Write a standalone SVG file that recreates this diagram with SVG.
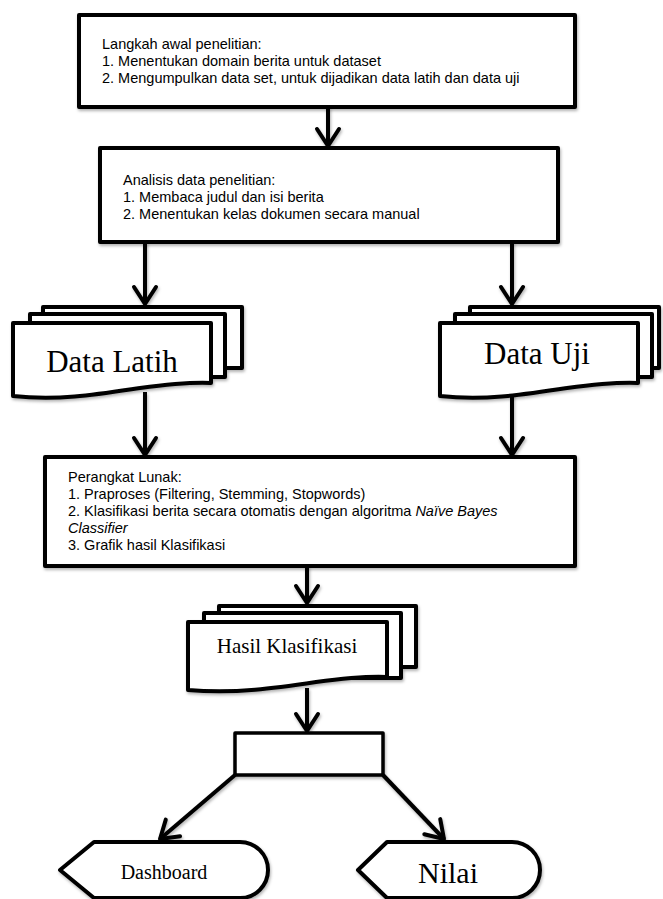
<svg xmlns="http://www.w3.org/2000/svg" width="663" height="899" viewBox="0 0 663 899">
<style>
.box{fill:#fff;stroke:#000;stroke-width:4;stroke-linejoin:round}
.sheet{fill:#fff;stroke:#000;stroke-width:4;stroke-linejoin:round}
.con{fill:none;stroke:#000;stroke-width:4;marker-end:url(#ah)}
.t{font-family:"Liberation Sans",Arial,sans-serif;font-size:14.5px;fill:#000}
.s{font-family:"Liberation Serif","Times New Roman",serif;fill:#000;text-anchor:middle}
.sh{filter:url(#shadow)}
</style>
<defs>
<filter id="shadow" x="-10%" y="-10%" width="120%" height="130%">
<feDropShadow dx="1" dy="2" stdDeviation="1.5" flood-color="#000" flood-opacity="0.3"/>
</filter>
<marker id="ah" markerUnits="userSpaceOnUse" viewBox="-20 -15 22 30" markerWidth="22" markerHeight="30" refX="0" refY="0" orient="auto" overflow="visible">
<path d="M-17,-11 L0,0 L-17,11" fill="none" stroke="#000" stroke-width="4" stroke-linecap="round" stroke-linejoin="round"/>
</marker>
</defs>
<g id="connectors" class="sh">
<line class="con" x1="328" y1="107" x2="328" y2="146"/>
<line class="con" x1="145" y1="242" x2="145" y2="304"/>
<line class="con" x1="512" y1="242" x2="512" y2="304"/>
<line class="con" x1="145" y1="392" x2="145" y2="455"/>
<line class="con" x1="512" y1="392" x2="512" y2="455"/>
<line class="con" x1="307" y1="566" x2="307" y2="603"/>
<line class="con" x1="307" y1="688" x2="307" y2="731"/>
<line class="con" x1="235" y1="775" x2="160" y2="839"/>
<line class="con" x1="383" y1="775" x2="444" y2="839"/>
</g>
<g id="box1">
<rect class="box sh" x="79" y="15" width="496" height="92"/>
<text class="t" x="102" y="49">Langkah awal penelitian:</text>
<text class="t" x="102" y="66">1. Menentukan domain berita untuk dataset</text>
<text class="t" x="102" y="83">2. Mengumpulkan data set, untuk dijadikan data latih dan data uji</text>
</g>
<g id="box2">
<rect class="box sh" x="100" y="148" width="458" height="94"/>
<text class="t" x="123" y="185">Analisis data penelitian:</text>
<text class="t" x="123" y="202">1. Membaca judul dan isi berita</text>
<text class="t" x="123" y="219">2. Menentukan kelas dokumen secara manual</text>
</g>
<g id="data-latih">
<g class="sh">
<rect class="sheet" x="43" y="307" width="199" height="61"/>
<rect class="sheet" x="30" y="314" width="195" height="63"/>
<path class="sheet" d="M13,323 H211 V383 C190,382 170,384 140,388 C100,394 60,401 13,396 Z"/>
</g>
<text class="s" x="112" y="372" font-size="31">Data Latih</text>
</g>
<g id="data-uji">
<g class="sh">
<rect class="sheet" x="470" y="307" width="189" height="61"/>
<rect class="sheet" x="455" y="314" width="197" height="63"/>
<path class="sheet" d="M440,323 H638 V383 C617,382 597,384 567,388 C527,394 487,401 440,396 Z"/>
</g>
<text class="s" x="537" y="364" font-size="31">Data Uji</text>
</g>
<g id="box3">
<rect class="box sh" x="45" y="457" width="530" height="109"/>
<text class="t" x="68" y="482">Perangkat Lunak:</text>
<text class="t" x="68" y="499">1. Praproses (Filtering, Stemming, Stopwords)</text>
<text class="t" x="68" y="516">2. Klasifikasi berita secara otomatis dengan algoritma <tspan font-style="italic">Naïve Bayes</tspan></text>
<text class="t" x="68" y="533" font-style="italic">Classifier</text>
<text class="t" x="68" y="550">3. Grafik hasil Klasifikasi</text>
</g>
<g id="hasil-klasifikasi">
<g class="sh">
<rect class="sheet" x="219" y="606" width="197" height="61"/>
<rect class="sheet" x="204" y="613" width="197" height="65"/>
<path class="sheet" d="M188,622 H387 V677 C366,676 346,678 316,682 C276,688 236,694 188,690 Z"/>
</g>
<text class="s" x="287" y="653" font-size="21">Hasil Klasifikasi</text>
</g>
<g id="proses">
<rect class="box sh" x="235" y="733" width="148" height="42" style="stroke-width:3.5"/>
</g>
<g id="dashboard">
<path class="box sh" d="M60,870 L94,842 H240 A28,28 0 0 1 240,898 H94 Z"/>
<text class="s" x="164" y="879" font-size="20">Dashboard</text>
</g>
<g id="nilai">
<path class="box sh" d="M358,870 L387,842 H512 A28,28 0 0 1 512,898 H387 Z"/>
<text class="s" x="448" y="883" font-size="30">Nilai</text>
</g>
</svg>
